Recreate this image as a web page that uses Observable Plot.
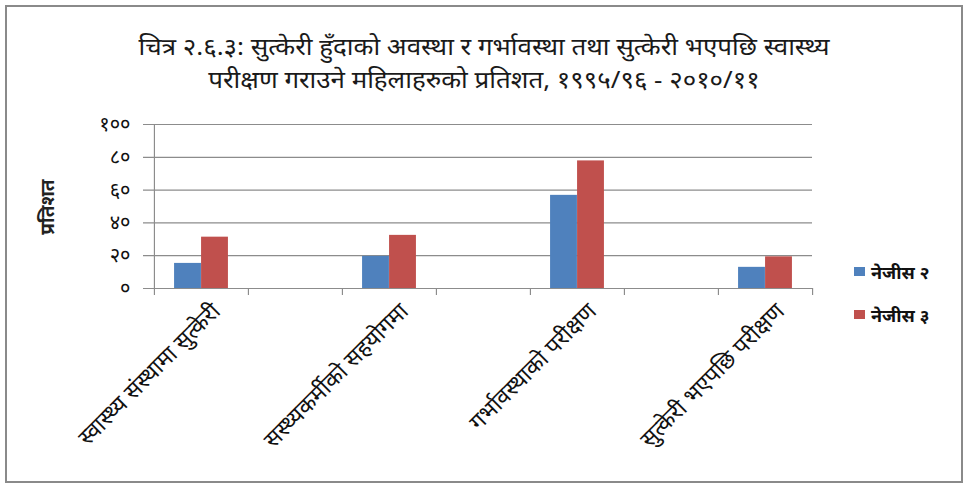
<!DOCTYPE html>
<html>
<head>
<meta charset="utf-8">
<script src="https://cdn.jsdelivr.net/npm/d3@7"></script>
<script src="https://cdn.jsdelivr.net/npm/@observablehq/plot@0.6"></script>
<style>
  html, body { margin: 0; padding: 0; background: #fff; }
  body { width: 968px; height: 489px; position: relative; overflow: hidden;
         font-family: "Noto Sans", sans-serif; color: #111; }
  #frame { position: absolute; left: 5px; top: 5px; width: 958px; height: 478px;
           border: 2px solid #8a8a8a; box-sizing: border-box; }
  #chart { position: absolute; left: 0; top: 0; }
  #title { position: absolute; left: 0; top: 29px; width: 968px; text-align: center;
           font-size: 24px; color: #1a1a1a; transform: scaleX(1.08); transform-origin: 484px 0; }
  #title div { height: 33px; line-height: 33px; }
  #ylabel { position: absolute; left: 47px; top: 207px; transform: translate(-50%, -50%) rotate(-90deg);
            font-size: 19px; font-weight: bold; white-space: nowrap; color: #222; }
  #legend { position: absolute; left: 854px; top: 250px; font-size: 18px; font-weight: bold; }
  .item { display: flex; align-items: center; height: 43px; }
  .sw { width: 11px; height: 9px; margin-right: 6px; }
</style>
</head>
<body>
<div id="frame"></div>
<div id="chart"></div>
<div id="title"></div>
<div id="ylabel"></div>
<div id="legend"></div>
<script>
// ---- data ----
const titleLines = [
  "चित्र २.६.३: सुत्केरी हुँदाको अवस्था र गर्भावस्था तथा सुत्केरी भएपछि स्वास्थ्य",
  "परीक्षण गराउने महिलाहरुको प्रतिशत, १९९५/९६ - २०१०/११"
];
const categories = [
  "स्वास्थ्य संस्थामा सुत्केरी",
  "सस्थ्यकर्मीको सहयोगमा",
  "गर्भावस्थाको परीक्षण",
  "सुत्केरी भएपछि परीक्षण"
];
const seriesNames = ["नेजीस २", "नेजीस ३"];
const nejis2 = [15.3, 19.6, 56.8, 12.9];
const nejis3 = [31.3, 32.4, 77.8, 19.3];
const yTicks = [0, 20, 40, 60, 80, 100];
const yTickLabels = ["०", "२०", "४०", "६०", "८०", "१००"];
const yLabel = "प्रतिशत";
const colors = ["#4F81BD", "#C0504D"];

// Excel-style layout: each category followed by an empty slot
const slots = [];
categories.forEach((c, i) => { slots.push("c" + i); if (i < categories.length - 1) slots.push("gap" + i); });
const rows = [];
categories.forEach((c, i) => {
  rows.push({slot: "c" + i, series: seriesNames[0], value: nejis2[i]});
  rows.push({slot: "c" + i, series: seriesNames[1], value: nejis3[i]});
});
const labelRows = categories.map((c, i) => ({slot: "c" + i, label: c}));

const W = 968, H = 489;
const mL = 153, mR = W - 812, mT = 124, mB = H - 288;
const band = (W - mL - mR) / slots.length;
const barW = 27;
const off = (band - 2 * barW) / 2;
const font = '"Noto Sans", sans-serif';
const axisGray = "#8c8c8c";

const chart = Plot.plot({
  width: W, height: H,
  marginLeft: mL, marginRight: mR, marginTop: mT, marginBottom: mB,
  style: {fontFamily: font, background: "transparent", overflow: "visible"},
  x: {type: "band", domain: slots, padding: 0, axis: null},
  y: {domain: [0, 100], axis: null},
  color: {domain: seriesNames, range: colors},
  marks: [
    Plot.ruleY(yTicks, {y: d => d, stroke: axisGray, strokeWidth: 1.2, insetLeft: -10}),
    Plot.text(yTicks, {y: d => d, text: (d, i) => yTickLabels[i], frameAnchor: "left", dx: -23, textAnchor: "end",
      fontSize: 20, fill: "#111"}),
    Plot.ruleX([slots[0]], {x: d => d, dx: -band / 2, y1: 0, y2: 100, stroke: axisGray, strokeWidth: 1.2}),
    Plot.barY(rows.filter(r => r.series === seriesNames[0]), {x: "slot", y: "value", fill: "series",
      insetLeft: off, insetRight: band - off - barW}),
    Plot.barY(rows.filter(r => r.series === seriesNames[1]), {x: "slot", y: "value", fill: "series",
      insetLeft: off + barW, insetRight: off}),
    Plot.ruleY([0], {stroke: axisGray, strokeWidth: 1.2}),
    Plot.axisX(slots, {tickSize: 7, dx: -band / 2, tickFormat: () => "", label: null, stroke: axisGray, strokeWidth: 1.2}),
    Plot.axisX([slots[slots.length - 1]], {tickSize: 7, dx: band / 2, tickFormat: () => "", label: null, stroke: axisGray, strokeWidth: 1.2}),
    Plot.text(labelRows, {x: "slot", text: "label", frameAnchor: "bottom", rotate: -45, textAnchor: "end",
      lineAnchor: "middle", dx: 15, dy: 19, fontSize: 23, fill: "#111"})
  ]
});
document.getElementById("chart").appendChild(chart);

document.getElementById("title").innerHTML = titleLines.map(t => `<div>${t}</div>`).join("");
document.getElementById("ylabel").textContent = yLabel;
document.getElementById("legend").innerHTML = seriesNames.map((s, i) =>
  `<div class="item"><span class="sw" style="background:${colors[i]}"></span><span>${s}</span></div>`).join("");
</script>
</body>
</html>
